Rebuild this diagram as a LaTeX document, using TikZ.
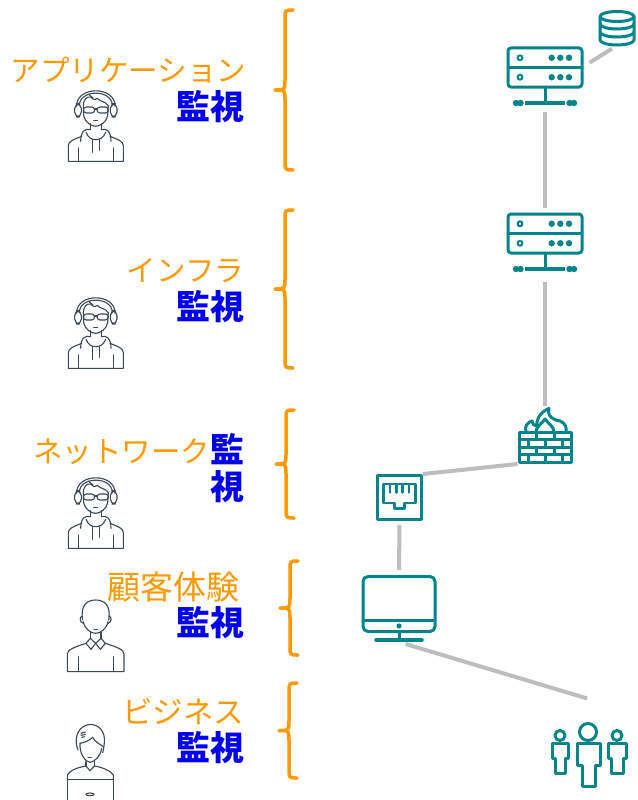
\documentclass[tikz,border=0pt]{standalone}
\usepackage{fontspec}
\newfontfamily\jp{Noto Sans CJK JP}
\definecolor{accent}{RGB}{255,153,0}
\definecolor{kanblue}{RGB}{0,0,238}
\definecolor{tealc}{RGB}{0,133,138}
\definecolor{wire}{RGB}{190,190,190}
\definecolor{slate}{RGB}{60,72,85}

\tikzset{
  layer/.style={anchor=east, inner sep=0pt, outer sep=0pt, text=accent,
    font=\jp\fontsize{29.5}{29.5}\selectfont},
  watch/.style={anchor=east, inner sep=0pt, outer sep=0pt, text=kanblue,
    font=\jp\bfseries\fontsize{34}{34}\selectfont},
  bracestyle/.style={draw=accent, line width=3.5pt, line cap=round, line join=round},
  iconbox/.style={rectangle, inner sep=0pt, outer sep=0pt, draw=none},
  icon/.style={draw=tealc, line width=3pt, line cap=round, line join=round},
  link/.style={draw=wire, line width=4pt},
  avatar/.style={draw=slate, line width=1.1pt, line cap=round, line join=round}
}

% curly bracket: spine x, top y, bottom y
\newcommand\drawcurly[3]{%
  \draw[bracestyle] ({#1+8},#2) .. controls ({#1},#2) .. ({#1},{#2+9})
    -- ({#1},{(#2+#3)/2-10}) .. controls ({#1},{(#2+#3)/2}) .. ({#1-10},{(#2+#3)/2})
    .. controls ({#1},{(#2+#3)/2}) .. ({#1},{(#2+#3)/2+10})
    -- ({#1},{#3-9}) .. controls ({#1},#3) .. ({#1+8},#3);}

% rack server drawn around the centre of its chassis node
\newcommand\drawserver[1]{%
  \begin{scope}[shift={(#1.center)}]
    \draw[icon, rounded corners=3pt] (-37,-19.5) rectangle (37,19.5);
    \draw[icon] (-37,0) -- (37,0);
    \foreach \yy in {-9.75,9.75}{
      \draw[tealc, line width=2pt] (-25,\yy) circle (2.4);
      \foreach \xx in {6.7,15.3,24}{\fill[tealc] (\xx,\yy) circle (3.2);}
    }
    \draw[icon] (0,19.5) -- (0,35.5);
    \draw[icon, line width=3.5pt, line cap=butt] (-20,35.5) -- (20,35.5);
    \foreach \xx in {-29,-24.5,24.5,29}{\fill[tealc] (\xx,35.5) circle (3.2);}
  \end{scope}}

% person with headset and hoodie
\newcommand\HeadsetAgent[1]{%
  \begin{scope}[shift={#1}, scale=1/3]
    \draw[avatar] (80,100) .. controls (78,38) and (197,38) .. (195,100);
    \draw[avatar] (88,98) .. controls (88,48) and (187,48) .. (187,98);
    \draw[avatar, rounded corners=5pt] (74,92) rectangle (94,132);
    \draw[avatar, rounded corners=5pt] (181,92) rectangle (201,132);
    \draw[avatar] (100,98) .. controls (100,80) and (110,70) .. (122,72)
      .. controls (126,80) and (135,82) .. (142,76)
      .. controls (150,86) and (165,84) .. (175,98);
    \draw[avatar] (116,64) .. controls (120,70) .. (128,74);
    \draw[avatar] (100,98) -- (101,128) .. controls (105,148) and (124,160) .. (137,160)
      .. controls (150,160) and (169,148) .. (173,128) -- (175,98);
    \draw[avatar, rounded corners=3pt] (100,102) rectangle (134,120);
    \draw[avatar, rounded corners=3pt] (141,102) rectangle (175,120);
    \draw[avatar] (134,108) -- (141,108);
    \draw[avatar] (131,143) -- (143,143);
    \draw[avatar] (121,152) -- (121,170);
    \draw[avatar] (154,152) -- (154,170);
    \draw[avatar] (121,170) .. controls (105,165) and (92,175) .. (92,205);
    \draw[avatar] (154,170) .. controls (170,165) and (183,175) .. (183,205);
    \draw[avatar] (108,178) .. controls (115,195) and (125,200) .. (137,200)
      .. controls (150,200) and (160,195) .. (167,178);
    \draw[avatar] (127,200) -- (127,238);
    \draw[avatar] (148,200) -- (148,232);
    \draw[avatar] (95,190) .. controls (70,200) and (55,205) .. (55,218) -- (55,265)
      -- (220,265) -- (220,218) .. controls (220,205) and (205,200) .. (180,190);
    \draw[avatar] (85,225) -- (85,265);
    \draw[avatar] (190,225) -- (190,265);
  \end{scope}}

% person in a collared shirt
\newcommand\ShirtAgent[1]{%
  \begin{scope}[shift={#1}, scale=1/3]
    \draw[avatar] (98,90) .. controls (90,45) and (112,30) .. (137,30)
      .. controls (162,30) and (184,45) .. (176,90);
    \draw[avatar] (98,78) .. controls (88,78) and (88,98) .. (100,100);
    \draw[avatar] (176,78) .. controls (186,78) and (186,98) .. (174,100);
    \draw[avatar] (100,95) .. controls (104,118) and (124,130) .. (137,130)
      .. controls (150,130) and (170,118) .. (174,95);
    \draw[avatar] (132,118) -- (142,118);
    \draw[avatar] (121,127) -- (121,145);
    \draw[avatar] (153,127) -- (153,145);
    \draw[avatar] (121,145) -- (108,160) -- (123,178) -- (137,160);
    \draw[avatar] (153,145) -- (166,160) -- (151,178) -- (137,160);
    \draw[avatar] (121,145) -- (137,160) -- (153,145);
    \draw[avatar] (108,160) .. controls (70,172) and (52,180) .. (52,192) -- (52,245)
      -- (222,245) -- (222,192) .. controls (222,180) and (204,172) .. (166,160);
    \draw[avatar] (85,200) -- (85,245);
    \draw[avatar] (190,200) -- (190,245);
  \end{scope}}

% person behind a laptop
\newcommand\LaptopAgent[1]{%
  \begin{scope}[shift={#1}, scale=1/3]
    \draw[avatar] (84,150) .. controls (72,120) and (80,85) .. (110,75)
      .. controls (135,68) and (162,85) .. (163,115)
      .. controls (164,135) and (160,150) .. (158,158);
    \draw[avatar] (90,130) .. controls (105,128) and (120,120) .. (128,112)
      .. controls (135,125) and (148,132) .. (160,140);
    \draw[avatar] (93,100) -- (106,96);
    \draw[avatar] (93,106) -- (106,103);
    \draw[avatar] (95,112) -- (104,110);
    \draw[avatar] (90,130) .. controls (88,160) and (105,185) .. (120,187)
      .. controls (135,185) and (152,168) .. (155,145);
    \draw[avatar] (114,172) -- (124,172);
    \draw[avatar] (108,185) -- (108,198);
    \draw[avatar] (133,183) -- (133,198);
    \draw[avatar] (52,238) -- (52,225) .. controls (60,210) and (85,202) .. (108,198)
      -- (120,212) -- (133,198) .. controls (158,202) and (182,212) .. (190,225) -- (190,238);
    \draw[avatar] (52,300) -- (52,238) -- (190,238) -- (190,300);
    \draw[avatar] (120,283) ellipse [x radius=12, y radius=4];
  \end{scope}}

\begin{document}
\begin{tikzpicture}[x=1pt, y=-1pt]
  \useasboundingbox[fill=white] (0,0) rectangle (637,800);

  % ---------- monitoring layers ----------
  \node[layer] (app) at (246,70) {アプリケーション};
  \node[watch] (appw) at (244,107) {監視};
  \node[layer] (infra) at (244,271) {インフラ};
  \node[watch] (infraw) at (244,307) {監視};
  \node[watch] (netw1) at (244,449) {監};
  \node[layer, anchor=base east] (net) at (netw1.base west) {ネットワーク};
  \node[watch] (netw2) at (244,487) {視};
  \node[layer, font=\jp\fontsize{33}{33}\selectfont] (cx) at (239,587) {顧客体験};
  \node[watch] (cxw) at (244,623) {監視};
  \node[layer, font=\jp\fontsize{30.5}{30.5}\selectfont] (biz) at (244,712) {ビジネス};
  \node[watch] (bizw) at (244,748) {監視};

  \drawcurly{285}{10}{170}
  \drawcurly{285}{210}{368}
  \drawcurly{286}{410}{518}
  \drawcurly{290}{561}{655}
  \drawcurly{289}{683}{778}

  % ---------- people ----------
  \HeadsetAgent{(50,73)}
  \HeadsetAgent{(50,280)}
  \HeadsetAgent{(50,460)}
  \ShirtAgent{(50,590)}
  \LaptopAgent{(50,700)}

  % ---------- system stack ----------
  \node[iconbox, minimum width=37pt, minimum height=35pt] (db) at (617,28) {};
  \node[iconbox, minimum width=74pt, minimum height=39pt] (srv1) at (545,67.5) {};
  \node[iconbox, minimum width=74pt, minimum height=39pt] (srv2) at (545,233.5) {};
  \node[iconbox, minimum width=55pt, minimum height=56pt] (fw) at (545,436) {};
  \node[iconbox, minimum width=47pt, minimum height=47pt] (port) at (399.5,497.5) {};
  \node[iconbox, minimum width=76pt, minimum height=67pt] (mon) at (399,608.5) {};
  \node[iconbox, minimum width=76pt, minimum height=88pt] (ppl) at (589,743) {};

  \draw[link, shorten <=6pt, shorten >=9pt] (db.south) -- (srv1.east);
  \draw[link, shorten <=25pt, shorten >=6pt] (srv1.south) -- (srv2.north);
  \draw[link, shorten <=29pt, shorten >=2pt] (srv2.south) -- (fw.north);
  \draw[link] (fw.south west) -- (port.north east);
  \draw[link, shorten <=4pt, shorten >=5pt] (port.south) -- (mon.north);
  \draw[link, shorten <=7pt, shorten >=2pt] (mon.south) -- (ppl.north);

  % database
  \begin{scope}[shift={(db.center)}]
    \draw[icon] (0,-11.5) ellipse [x radius=17, y radius=5];
    \draw[icon] (-17,-11.5) -- (-17,12) arc [start angle=180, end angle=0, x radius=17, y radius=5] -- (17,-11.5);
    \draw[icon] (-17,-4) arc [start angle=180, end angle=0, x radius=17, y radius=5];
    \draw[icon] (-17,4) arc [start angle=180, end angle=0, x radius=17, y radius=5];
  \end{scope}

  \drawserver{srv1}
  \drawserver{srv2}

  % firewall
  \begin{scope}[shift={(fw.center)}]
    \draw[icon] (-26,-4) rectangle (26,26.5);
    \draw[icon] (-26,3.6) -- (26,3.6);
    \draw[icon] (-26,11.2) -- (26,11.2);
    \draw[icon] (-26,18.8) -- (26,18.8);
    \draw[icon] (-9,-4) -- (-9,3.6) (9,-4) -- (9,3.6);
    \draw[icon] (-17,3.6) -- (-17,11.2) (0,3.6) -- (0,11.2) (17,3.6) -- (17,11.2);
    \draw[icon] (-9,11.2) -- (-9,18.8) (9,11.2) -- (9,18.8);
    \draw[icon] (-17,18.8) -- (-17,26.5) (0,18.8) -- (0,26.5) (17,18.8) -- (17,26.5);
    \draw[icon] (-19,-4) .. controls (-21,-10) and (-17,-14) .. (-13,-15)
      .. controls (-13,-12) and (-11,-10) .. (-8,-10)
      .. controls (-9,-18) and (-3,-25) .. (4,-27.5)
      .. controls (2,-22) and (6,-18) .. (9,-17)
      .. controls (11,-17) and (12,-14) .. (15,-15)
      .. controls (20,-13) and (22,-9) .. (21,-4);
    \draw[icon] (-9,-4) .. controls (-9,-10) and (-3,-12) .. (0,-17)
      .. controls (3,-12) and (9,-10) .. (9,-4);
  \end{scope}

  % network port
  \begin{scope}[shift={(port.center)}]
    \draw[icon] (-22,-22) rectangle (22,22);
    \draw[icon, line width=2.5pt] (-16,-13.5) -- (-16,5.5) -- (-5,5.5) -- (-5,11) -- (5,11)
      -- (5,5.5) -- (16,5.5) -- (16,-13.5) -- cycle;
    \foreach \xx in {-9.6,-3.2,3.2,9.6}{\draw[icon, line width=2.5pt] (\xx,-13.5) -- (\xx,-5);}
  \end{scope}

  % desktop monitor
  \begin{scope}[shift={(mon.center)}]
    \draw[icon, rounded corners=5pt] (-36,-32) rectangle (36,23);
    \draw[icon] (-36,11.5) -- (36,11.5);
    \fill[tealc] (0,17.5) circle (2.6);
    \draw[icon] (0,23) -- (0,31.5);
    \draw[icon, line width=3.5pt] (-23,31.5) -- (23,31.5);
  \end{scope}

  % users
  \begin{scope}[shift={(ppl.center)}]
    \draw[icon] (-1,-11) circle (8.5);
    \draw[icon] (-12,0) -- (11,0) -- (11,22) -- (6,22) -- (6,43) -- (-7,43) -- (-7,22) -- (-12,22) -- cycle;
    \draw[icon] (-29,-7.5) circle (5);
    \draw[icon] (-37,0) -- (-21,0) -- (-21,15) -- (-24,15) -- (-24,30) -- (-34,30) -- (-34,15) -- (-37,15) -- cycle;
    \draw[icon] (28,-7.5) circle (5);
    \draw[icon] (19,0) -- (37,0) -- (37,15) -- (34,15) -- (34,30) -- (22,30) -- (22,15) -- (19,15) -- cycle;
  \end{scope}
\end{tikzpicture}
\end{document}
